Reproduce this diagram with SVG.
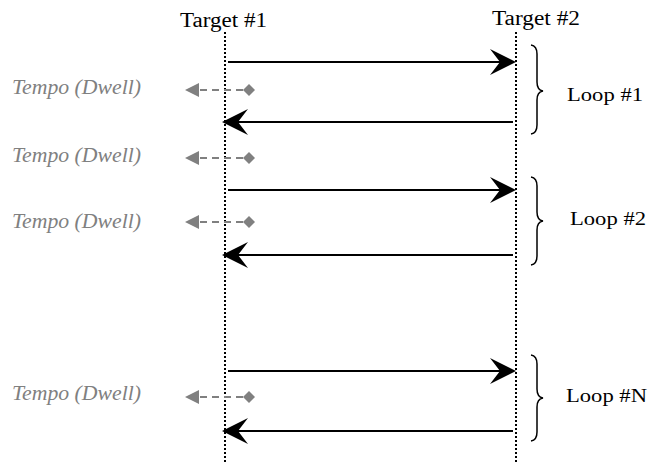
<svg xmlns="http://www.w3.org/2000/svg" width="651" height="464" viewBox="0 0 651 464">
<defs>
<style>
.lbl{font-family:"Liberation Serif","Times New Roman",serif;fill:#000}
.tgt{font-size:20px}
.loop{font-size:18px}
.tempo{font-family:"Liberation Serif","Times New Roman",serif;font-style:italic;font-size:20px;fill:#808080}
.life{stroke:#000;stroke-width:2;stroke-dasharray:2 2;fill:none}
.msg{stroke:#000;stroke-width:2;fill:none}
.dwell{stroke:#808080;stroke-width:2;stroke-dasharray:7 5;fill:none}
.brace{stroke:#000;stroke-width:1.5;fill:none}
.head{fill:#000}
.ghead{fill:#808080}
</style>
</defs>
<g id="target1">
<text class="lbl tgt" x="180" y="27" textLength="87" lengthAdjust="spacingAndGlyphs">Target #1</text>
<line class="life" x1="225" y1="32" x2="225" y2="464"/>
</g>
<g id="target2">
<text class="lbl tgt" x="492" y="25" textLength="88" lengthAdjust="spacingAndGlyphs">Target #2</text>
<line class="life" x1="516" y1="32" x2="516" y2="464"/>
</g>
<g id="loop1">
<path class="brace" d="M531,45 Q537,46 537,54 L537,82 Q537,90 543,91 Q537,92 537,100 L537,125 Q537,133 531,134"/>
<text class="lbl loop" x="567" y="101" textLength="76" lengthAdjust="spacingAndGlyphs">Loop #1</text>
</g>
<g id="loop2">
<path class="brace" d="M531,177 Q537,178 537,186 L537,212 Q537,220 543,221 Q537,222 537,230 L537,256 Q537,264 531,265"/>
<text class="lbl loop" x="570" y="225" textLength="76" lengthAdjust="spacingAndGlyphs">Loop #2</text>
</g>
<g id="loopN">
<path class="brace" d="M531,355 Q537,356 537,364 L537,389 Q537,397 543,398 Q537,399 537,407 L537,432 Q537,440 531,441"/>
<text class="lbl loop" x="566" y="402" textLength="81" lengthAdjust="spacingAndGlyphs">Loop #N</text>
</g>
<g id="tempo1"><text class="tempo" x="12" y="94" textLength="129" lengthAdjust="spacingAndGlyphs">Tempo (Dwell)</text></g>
<g id="tempo2"><text class="tempo" x="12" y="162" textLength="129" lengthAdjust="spacingAndGlyphs">Tempo (Dwell)</text></g>
<g id="tempo3"><text class="tempo" x="12" y="228" textLength="129" lengthAdjust="spacingAndGlyphs">Tempo (Dwell)</text></g>
<g id="tempo4"><text class="tempo" x="12" y="400" textLength="129" lengthAdjust="spacingAndGlyphs">Tempo (Dwell)</text></g>
<g id="connectors">
<line class="msg" x1="228" y1="62" x2="500" y2="62"/>
<path class="head" d="M516,62 L490,49 L500,62 L490,75 Z"/>
<line class="msg" x1="513" y1="122" x2="238" y2="122"/>
<path class="head" d="M222,122 L248,109 L238,122 L248,135 Z"/>
<line class="msg" x1="228" y1="190" x2="500" y2="190"/>
<path class="head" d="M516,190 L490,177 L500,190 L490,203 Z"/>
<line class="msg" x1="513" y1="255" x2="238" y2="255"/>
<path class="head" d="M222,255 L248,242 L238,255 L248,268 Z"/>
<line class="msg" x1="228" y1="371" x2="500" y2="371"/>
<path class="head" d="M516,371 L490,358 L500,371 L490,384 Z"/>
<line class="msg" x1="513" y1="431" x2="238" y2="431"/>
<path class="head" d="M222,431 L248,418 L238,431 L248,444 Z"/>
<g>
<line class="dwell" x1="243" y1="90" x2="197" y2="90"/>
<path class="ghead" d="M185,90 L199,83 L199,97 Z"/>
<path class="ghead" d="M249,84 L255,90 L249,96 L243,90 Z"/>
</g>
<g>
<line class="dwell" x1="243" y1="158" x2="197" y2="158"/>
<path class="ghead" d="M185,158 L199,151 L199,165 Z"/>
<path class="ghead" d="M249,152 L255,158 L249,164 L243,158 Z"/>
</g>
<g>
<line class="dwell" x1="243" y1="222" x2="197" y2="222"/>
<path class="ghead" d="M185,222 L199,215 L199,229 Z"/>
<path class="ghead" d="M249,216 L255,222 L249,228 L243,222 Z"/>
</g>
<g>
<line class="dwell" x1="243" y1="397" x2="197" y2="397"/>
<path class="ghead" d="M185,397 L199,390 L199,404 Z"/>
<path class="ghead" d="M249,391 L255,397 L249,403 L243,397 Z"/>
</g>
</g>
</svg>
